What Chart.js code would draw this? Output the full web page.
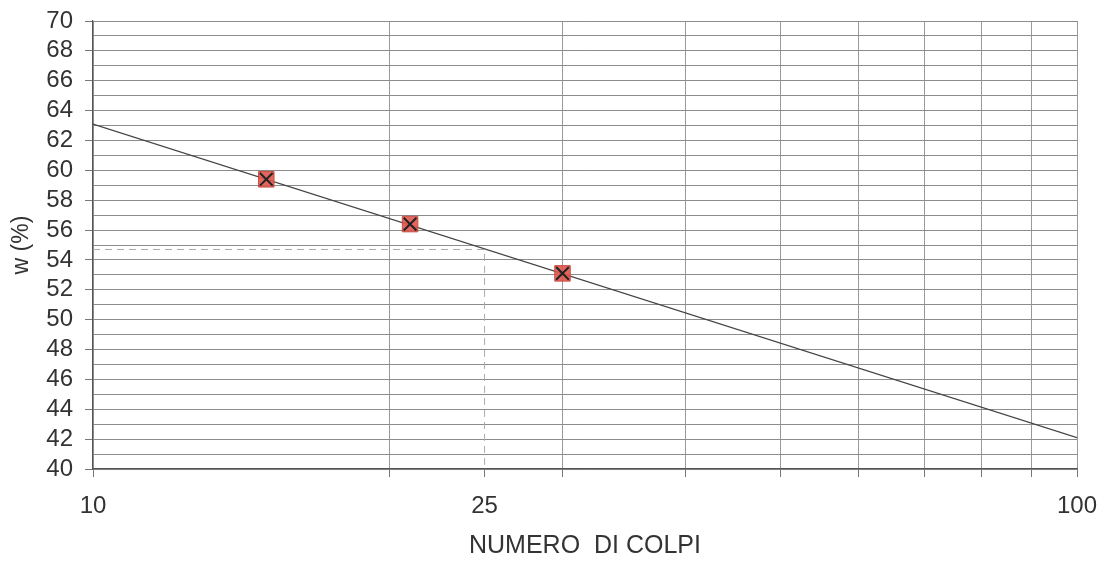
<!DOCTYPE html>
<html>
<head>
<meta charset="utf-8">
<script src="https://cdn.jsdelivr.net/npm/chart.js@4.4.1/dist/chart.umd.min.js"></script>
<style>
  html, body { margin: 0; padding: 0; background: #fff; }
  #wrap { width: 1102px; height: 567px; }
</style>
</head>
<body>
<div id="wrap"><canvas id="chart" width="1102" height="567"></canvas></div>
<script>
// measured points (numero di colpi / w %)
const colpi = [15, 21, 30];
const wPerc = [59.4, 56.4, 53.1];

// fitted straight line on log x
const lineX = [10, 100];
const lineY = [63.1, 42.1];

// dashed guide at 25 blows
const guideX = [10, 25, 25];
const guideY = [54.7, 54.7, 40];

// axes
const xTickVals = [10, 20, 25, 30, 40, 50, 60, 70, 80, 90, 100];
const xLabelVals = [10, 25, 100];
const yMin = 40, yMax = 70;

const toPts = (xs, ys) => xs.map((x, i) => ({x: x, y: ys[i]}));

const font = 'Liberation Sans, Arial, sans-serif';
const txt = '#333';

var ctx = document.getElementById('chart');
var chart = new Chart(ctx, {
    type: 'scatter',
    data: {
        datasets: [
            {   // black X on markers
                data: toPts(colpi, wPerc),
                pointStyle: 'crossRot',
                pointRadius: 9,
                borderColor: '#222',
                borderWidth: 2,
                showLine: false,
            },
            {   // red squares
                data: toPts(colpi, wPerc),
                pointStyle: 'rect',
                pointRadius: 11,
                backgroundColor: 'rgba(222,86,76,0.9)',
                borderColor: 'rgba(200,70,60,0.9)',
                borderWidth: 1,
                showLine: false,
            },
            {   // trend line
                data: toPts(lineX, lineY),
                showLine: true,
                borderColor: '#444',
                borderWidth: 1.3,
                pointRadius: 0,
            },
            {   // guide
                data: toPts(guideX, guideY),
                showLine: true,
                borderColor: '#aaa',
                borderWidth: 1,
                borderDash: [7, 5],
                pointRadius: 0,
            },
        ]
    },
    options: {
        responsive: false,
        animation: false,
        layout: {padding: {left: 0, right: 25, top: 21, bottom: 0}},
        plugins: {legend: {display: false}, tooltip: {enabled: false}},
        scales: {
            x: {
                type: 'logarithmic',
                min: 10,
                max: 100,
                afterBuildTicks: function (scale) {
                    scale.ticks = xTickVals.map(v => ({value: v}));
                },
                afterFit: function (scale) {
                    scale.height = 98;
                    // labels may overhang, plot edge stays where it is
                    scale.paddingLeft = 0;
                    scale.paddingRight = 0;
                },
                ticks: {
                    autoSkip: false,
                    maxRotation: 0,
                    padding: 15,
                    color: txt,
                    font: {family: font, size: 24},
                    callback: function (v) { return xLabelVals.includes(v) ? String(v) : ''; },
                },
                grid: {
                    color: c => (c.tick && c.tick.value === 25) ? 'rgba(0,0,0,0)' : '#9a9a9a',
                    tickColor: '#777',
                    tickLength: 8,
                    lineWidth: 1,
                },
                border: {color: '#555', width: 1.2},
                title: {
                    display: true,
                    text: 'NUMERO  DI COLPI',
                    color: txt,
                    font: {family: font, size: 25},
                    padding: {top: 10, bottom: 6},
                },
            },
            y: {
                min: yMin,
                max: yMax,
                afterFit: function (scale) {
                    scale.width = 93;
                    scale.paddingTop = 0;
                    scale.paddingBottom = 0;
                },
                ticks: {
                    stepSize: 1,
                    autoSkip: false,
                    padding: 12,
                    color: txt,
                    font: {family: font, size: 24},
                    callback: function (v) { return v % 2 === 0 ? String(v) : ''; },
                },
                grid: {
                    color: '#8c8c8c',
                    tickColor: c => (c.tick && c.tick.value % 2 === 0) ? '#777' : 'rgba(0,0,0,0)',
                    tickLength: 8,
                    lineWidth: 1,
                },
                border: {color: '#555', width: 1.2},
                title: {
                    display: true,
                    text: 'w (%)',
                    color: txt,
                    font: {family: font, size: 23},
                    padding: {top: 8, bottom: 2},
                },
            }
        }
    }
});
</script>
</body>
</html>
